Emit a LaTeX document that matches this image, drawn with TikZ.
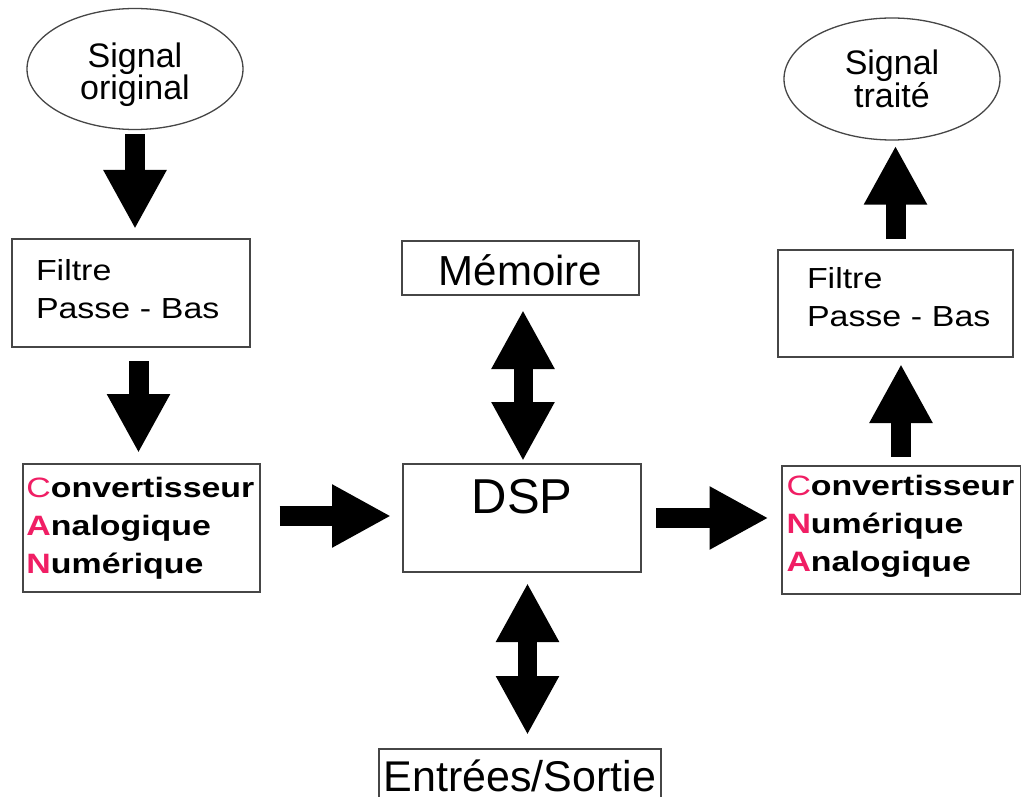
\documentclass[tikz,border=0pt]{standalone}
\usepackage{fontspec}
\setmainfont{Liberation Sans}
\usetikzlibrary{arrows.meta,shapes.geometric,calc}
\definecolor{lettre}{RGB}{240,30,100}
\definecolor{bord}{RGB}{70,70,70}
\newcommand{\rouge}[1]{\textcolor{lettre}{#1}}
\newcommand{\grasrouge}[1]{\textcolor{lettre}{\bfseries #1}}
\tikzset{
  signal/.style={ellipse,draw=bord,line width=1.3pt,align=center,inner sep=0pt,
    font=\fontsize{34}{32}\selectfont},
  boite/.style={rectangle,draw=bord,line width=2pt},
  filtre/.style={boite,align=left,text width=190pt,inner xsep=24pt,
    minimum height=108pt,font=\fontsize{29}{38}\selectfont\addfontfeature{FakeStretch=1.17}},
  conv/.style={boite,align=left,text width=229pt,inner xsep=4pt,
    minimum height=128pt,font=\fontsize{28}{38}\selectfont\addfontfeature{FakeStretch=1.21}},
  fleche/.style={line width=20pt,-{Triangle[width=59pt,length=59pt]}},
  double fleche/.style={line width=19pt,{Triangle[width=59pt,length=59pt]}-{Triangle[width=59pt,length=59pt]}}
}
\begin{document}
\begin{tikzpicture}[x=1pt,y=-1pt]

\clip (0,0) rectangle (1021,797);
\fill[white] (0,0) rectangle (1021,797);

% chaine d'entree
\node[signal,minimum width=216pt,minimum height=121pt] (orig) at (135,69) {\rule{0pt}{37pt}Signal\\original};
\node[filtre] (fin) at (131,293) {Filtre\\\mbox{Passe - Bas}\rule[-9pt]{0pt}{0pt}};
\node[conv] (can) at (141,528) {\rouge{C}\textbf{onvertisseur}\\\grasrouge{A}\textbf{nalogique}\\\grasrouge{N}\textbf{umérique}};

% le processeur et ses voisins
\node[boite,minimum width=238pt,inner ysep=0pt,text height=49pt,text depth=59pt,
  font=\fontsize{49}{49}\selectfont] (dsp) at (522,518) {DSP};
\node[boite,minimum width=237pt,inner ysep=0pt,text height=44pt,text depth=10pt,
  font=\fontsize{42}{42}\selectfont] (mem) at (520.5,268) {Mémoire};
\node[boite,minimum width=282pt,inner ysep=0pt,text height=42pt,text depth=20pt,
  font=\fontsize{43}{43}\selectfont,anchor=north] (io) at (520,748) {Entrées/Sortie};

% chaine de sortie
\node[conv,text width=229pt,inner xsep=5pt] (cna) at (901,529.5) {\rouge{C}\textbf{onvertisseur}\\\grasrouge{N}\textbf{umérique}\\\grasrouge{A}\textbf{nalogique}\rule[-13pt]{0pt}{0pt}};
\node[filtre,text width=177pt,inner xsep=29pt,minimum height=107pt] (fout) at (895.5,303.5) {Filtre\\\mbox{Passe - Bas}\rule[-13pt]{0pt}{0pt}};
\node[signal,minimum width=216pt,minimum height=122pt] (trait) at (892,79) {Signal\\traité};

% fleches
\draw[fleche,shorten <=4pt,shorten >=9pt] (orig.south) -- (orig.south |- fin.north);
\draw[fleche,shorten <=13pt,shorten >=10pt] ([xshift=7.5pt]fin.south) -- ([xshift=7.5pt]fin.south |- can.north);
\draw[fleche,shorten <=19pt,shorten >=11pt] ([yshift=2pt]can.east |- dsp.west) -- ([yshift=2pt]dsp.west);
\draw[fleche,shorten <=14pt,shorten >=12pt] (dsp.east) -- (dsp.east -| cna.west);
\draw[fleche,shorten <=8pt,shorten >=6pt] (cna.north) -- (cna.north |- fout.south);
\draw[fleche,shorten <=10pt,shorten >=5pt] (fout.north) -- (fout.north |- trait.south);
\draw[double fleche,shorten <=14pt,shorten >=2pt] ([xshift=2.5pt]mem.south) -- ([xshift=1pt]dsp.north);
\draw[double fleche,shorten <=10pt,shorten >=13pt] ([xshift=5.5pt]dsp.south) -- ([xshift=5.5pt]dsp.south |- io.north);

\end{tikzpicture}
\end{document}
